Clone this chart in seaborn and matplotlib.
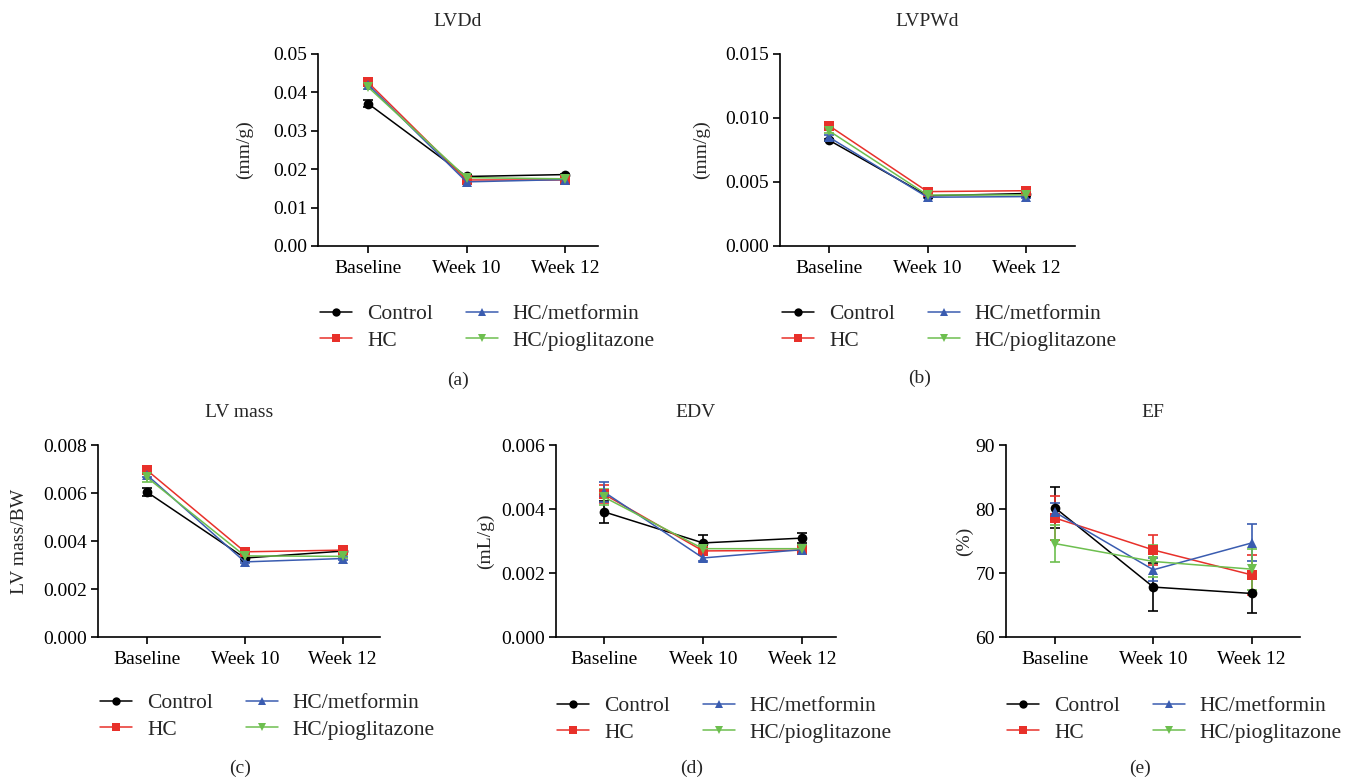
import numpy as np
import pandas as pd
import matplotlib
matplotlib.use("Agg")
import matplotlib.pyplot as plt
from matplotlib.lines import Line2D
import seaborn as sns

sns.set_style("ticks")
plt.rcParams['font.family'] = ['Liberation Serif', 'DejaVu Serif']
plt.rcParams['font.size'] = 14

categories = ["Baseline", "Week 10", "Week 12"]
groups = ["Control", "HC", "HC/metformin", "HC/pioglitazone"]
colors = ["#000000", "#e8302a", "#3a5cb0", "#6dbf4f"]
markers = ["o", "s", "^", "v"]

# LVDd (mm/g)
lvdd_control = [0.0371, 0.0181, 0.0186]
lvdd_hc = [0.0426, 0.0172, 0.0172]
lvdd_met = [0.0420, 0.0167, 0.0173]
lvdd_pio = [0.0414, 0.0178, 0.0175]
lvdd_control_err = [0.0010, 0.0003, 0.0002]
lvdd_hc_err = [0.0004, 0.0003, 0.0003]
lvdd_met_err = [0.0004, 0.0003, 0.0003]
lvdd_pio_err = [0.0005, 0.0003, 0.0002]

# LVPWd (mm/g)
lvpwd_control = [0.00827, 0.00392, 0.00410]
lvpwd_hc = [0.00940, 0.00425, 0.00432]
lvpwd_met = [0.00850, 0.00381, 0.00386]
lvpwd_pio = [0.00900, 0.00398, 0.00399]
lvpwd_control_err = [0.00010, 0.00008, 0.00008]
lvpwd_hc_err = [0.00010, 0.00008, 0.00008]
lvpwd_met_err = [0.00020, 0.00008, 0.00008]
lvpwd_pio_err = [0.00020, 0.00008, 0.00008]

# LV mass / BW
lvm_control = [0.00604, 0.00329, 0.00358]
lvm_hc = [0.00695, 0.00355, 0.00362]
lvm_met = [0.00675, 0.00313, 0.00327]
lvm_pio = [0.00665, 0.00338, 0.00336]
lvm_control_err = [0.00015, 0.00005, 0.00005]
lvm_hc_err = [0.00010, 0.00005, 0.00005]
lvm_met_err = [0.00010, 0.00005, 0.00005]
lvm_pio_err = [0.00020, 0.00005, 0.00005]

# EDV (mL/g)
edv_control = [0.00391, 0.00294, 0.00309]
edv_hc = [0.00446, 0.00269, 0.00271]
edv_met = [0.00453, 0.00247, 0.00273]
edv_pio = [0.00437, 0.00276, 0.00276]
edv_control_err = [0.00034, 0.00024, 0.00016]
edv_hc_err = [0.00028, 0.00010, 0.00010]
edv_met_err = [0.00030, 0.00008, 0.00008]
edv_pio_err = [0.00025, 0.00010, 0.00010]

# EF (%)
ef_control = [80.2, 67.8, 66.8]
ef_hc = [78.6, 73.6, 69.7]
ef_met = [79.5, 70.5, 74.7]
ef_pio = [74.6, 71.8, 70.6]
ef_control_err = [3.2, 3.7, 3.1]
ef_hc_err = [3.4, 2.4, 3.1]
ef_met_err = [1.4, 1.8, 2.9]
ef_pio_err = [2.9, 2.5, 3.2]

panels = [
    dict(title="LVDd", ylabel="(mm/g)", tag="(a)",
         means=[lvdd_control, lvdd_hc, lvdd_met, lvdd_pio],
         errs=[lvdd_control_err, lvdd_hc_err, lvdd_met_err, lvdd_pio_err],
         yticks=[0.0, 0.01, 0.02, 0.03, 0.04, 0.05], fmt="{:.2f}",
         rect=(318, 54, 280, 192), xlim=(-0.508, 2.335), ylab_x=253,
         leg=(320, 304), tagpos=(458, 380)),
    dict(title="LVPWd", ylabel="(mm/g)", tag="(b)",
         means=[lvpwd_control, lvpwd_hc, lvpwd_met, lvpwd_pio],
         errs=[lvpwd_control_err, lvpwd_hc_err, lvpwd_met_err, lvpwd_pio_err],
         yticks=[0.0, 0.005, 0.010, 0.015], fmt="{:.3f}",
         rect=(780, 54, 295, 192), xlim=(-0.497, 2.497), ylab_x=710,
         leg=(782, 304), tagpos=(920, 378)),
    dict(title="LV mass", ylabel="LV mass/BW", tag="(c)",
         means=[lvm_control, lvm_hc, lvm_met, lvm_pio],
         errs=[lvm_control_err, lvm_hc_err, lvm_met_err, lvm_pio_err],
         yticks=[0.0, 0.002, 0.004, 0.006, 0.008], fmt="{:.3f}",
         rect=(98, 445, 282, 192), xlim=(-0.5, 2.38), ylab_x=28,
         leg=(100, 693), tagpos=(240, 768)),
    dict(title="EDV", ylabel="(mL/g)", tag="(d)",
         means=[edv_control, edv_hc, edv_met, edv_pio],
         errs=[edv_control_err, edv_hc_err, edv_met_err, edv_pio_err],
         yticks=[0.0, 0.002, 0.004, 0.006], fmt="{:.3f}",
         rect=(556, 445, 280, 192), xlim=(-0.487, 2.345), ylab_x=494,
         leg=(557, 696), tagpos=(692, 768)),
    dict(title="EF", ylabel="(%)", tag="(e)",
         means=[ef_control, ef_hc, ef_met, ef_pio],
         errs=[ef_control_err, ef_hc_err, ef_met_err, ef_pio_err],
         yticks=[60, 70, 80, 90], fmt="{:.0f}",
         rect=(1006, 445, 294, 192), xlim=(-0.497, 2.49), ylab_x=973,
         leg=(1007, 696), tagpos=(1140, 768)),
]

W, H = 1345, 779
fig = plt.figure(figsize=(W / 100, H / 100), dpi=100)

for p in panels:
    l, t, w, h = p["rect"]
    ax = fig.add_axes([l / W, 1 - (t + h) / H, w / W, h / H])
    rows = []
    for g, vals in zip(groups, p["means"]):
        for c, v in zip(categories, vals):
            rows.append(dict(time=c, group=g, value=v))
    df = pd.DataFrame(rows)
    for g, col, vals, errs in zip(groups, colors, p["means"], p["errs"]):
        ax.errorbar(categories, vals, yerr=errs, fmt="none", ecolor=col,
                    elinewidth=1.2, capsize=3.6, capthick=1.2, zorder=2)
    sns.lineplot(data=df, x="time", y="value", hue="group", style="group",
                 hue_order=groups, style_order=groups,
                 palette=dict(zip(groups, colors)),
                 markers=dict(zip(groups, markers)), dashes=False,
                 markersize=7, markeredgewidth=0, linewidth=1.1,
                 legend=False, ax=ax, zorder=3)
    ax.set_xlim(*p["xlim"])
    ax.set_ylim(p["yticks"][0], p["yticks"][-1])
    ax.set_yticks(p["yticks"])
    ax.set_yticklabels([p["fmt"].format(v) for v in p["yticks"]])
    ax.set_xlabel("")
    ax.set_ylabel(p["ylabel"], fontsize=14)
    ax.yaxis.set_label_coords((p["ylab_x"] - l) / w, 0.5)
    ax.set_title(p["title"], fontsize=14, pad=20)
    sns.despine(ax=ax)
    for s in ["left", "bottom"]:
        ax.spines[s].set_linewidth(1.2)
        ax.spines[s].set_color("black")
    ax.tick_params(axis="both", direction="out", length=5, width=1.2,
                   colors="black", labelsize=14, pad=3)
    ax.tick_params(axis="x", pad=5)

    handles = [Line2D([0], [0], color=c, marker=m, markersize=6,
                      markeredgewidth=0, linewidth=1.1)
               for c, m in zip(colors, markers)]
    lx, ly = p["leg"]
    fig.legend(handles, groups, ncol=2, loc="upper left",
               bbox_to_anchor=(lx / W, 1 - ly / H),
               bbox_transform=fig.transFigure, frameon=False,
               borderpad=0, borderaxespad=0, handlelength=1.5,
               handletextpad=0.7, columnspacing=1.5, labelspacing=0.3,
               fontsize=15.5)
    tx, ty = p["tagpos"]
    fig.text(tx / W, 1 - ty / H, p["tag"], ha="center", va="center",
             fontsize=14)

fig.savefig("out.png", dpi=100)
